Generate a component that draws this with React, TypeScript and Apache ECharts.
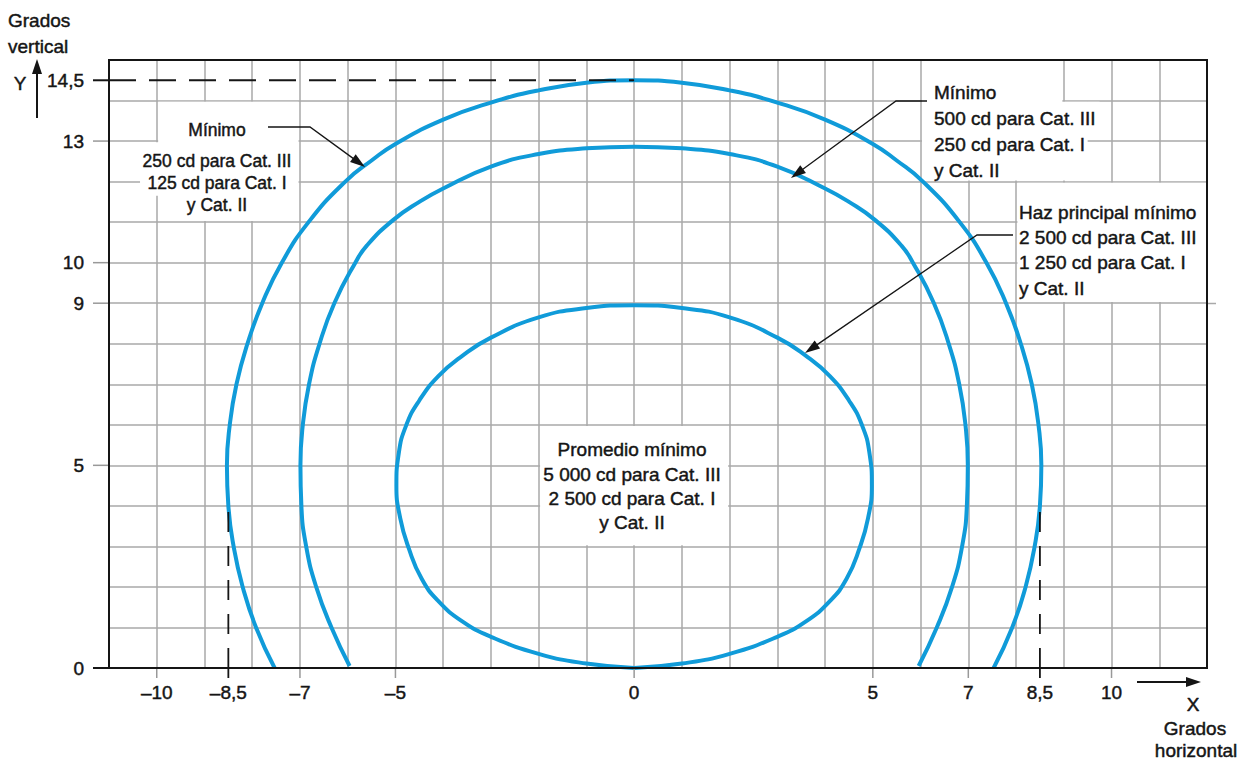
import React, { useEffect, useRef } from 'react';
import * as echarts from 'echarts';

// ---------- data ----------
const outerCurve: [number, number][] = [
  [-7.53, 0], [-7.92, 1], [-8.2, 2], [-8.39, 3], [-8.5, 4], [-8.53, 5], [-8.47, 6], [-8.33, 7],
  [-8.1, 8], [-7.79, 9], [-7.38, 10], [-6.82, 11], [-6.05, 12], [-5.5, 12.52], [-5.0, 12.93],
  [-4.0, 13.53], [-3.0, 13.95], [-2.0, 14.25], [-1.0, 14.44], [0, 14.5],
  [1.0, 14.44], [2.0, 14.25], [3.0, 13.95], [4.0, 13.53], [5.0, 12.93], [5.5, 12.52], [6.05, 12],
  [6.82, 11], [7.38, 10], [7.79, 9], [8.1, 8], [8.33, 7], [8.47, 6], [8.53, 5], [8.5, 4],
  [8.39, 3], [8.2, 2], [7.92, 1], [7.53, 0],
];

const middleCurve: [number, number][] = [
  [-5.96, 0.05], [-6.34, 1], [-6.66, 2], [-6.87, 3], [-6.97, 4], [-6.99, 5], [-6.94, 6], [-6.81, 7],
  [-6.59, 8], [-6.28, 9], [-5.84, 10], [-5.6, 10.42], [-5.05, 11.05], [-4.5, 11.5], [-4.0, 11.83],
  [-3.0, 12.37], [-2.0, 12.68], [-1.0, 12.82], [0, 12.86],
  [1.0, 12.82], [2.0, 12.68], [3.0, 12.37], [4.0, 11.83], [4.5, 11.5], [5.05, 11.05], [5.6, 10.42],
  [5.84, 10], [6.28, 9], [6.59, 8], [6.81, 7], [6.94, 6], [6.99, 5], [6.97, 4], [6.87, 3],
  [6.66, 2], [6.34, 1], [5.96, 0.05],
];

const innerCurve: [number, number][] = [
  [0, 0], [-1.0, 0.11], [-2.0, 0.35], [-3.0, 0.77], [-3.6, 1.15], [-4.1, 1.65], [-4.45, 2.2],
  [-4.72, 2.95], [-4.9, 3.7], [-4.98, 4.5], [-4.93, 5.3], [-4.77, 6.0], [-4.5, 6.6], [-4.1, 7.2],
  [-3.6, 7.7], [-3.0, 8.15], [-2.0, 8.65], [-1.0, 8.88], [0, 8.95],
  [1.0, 8.88], [2.0, 8.65], [3.0, 8.15], [3.6, 7.7], [4.1, 7.2], [4.5, 6.6], [4.77, 6.0],
  [4.93, 5.3], [4.98, 4.5], [4.9, 3.7], [4.72, 2.95], [4.45, 2.2], [4.1, 1.65], [3.6, 1.15],
  [3.0, 0.77], [2.0, 0.35], [1.0, 0.11], [0, 0],
];

const xTickValues = [-10, -8.5, -7, -5, 0, 5, 7, 8.5, 10];
const xTickLabels = ['–10', '–8,5', '–7', '–5', '0', '5', '7', '8,5', '10'];
const yTickValues = [0, 5, 9, 10, 13, 14.5];
const yTickLabels = ['0', '5', '9', '10', '13', '14,5'];

const guideTop: [number, number][] = [[-11, 14.5], [0, 14.5]];
const guideLeft: [number, number][] = [[-8.5, 0], [-8.5, 3.9]];
const guideRight: [number, number][] = [[8.5, 0], [8.5, 4.02]];

const noteLeft = ['Mínimo', '250 cd para Cat. III', '125 cd para Cat. I', 'y Cat. II'];
const noteTopRight = ['Mínimo', '500 cd para Cat. III', '250 cd para Cat. I', 'y Cat. II'];
const noteRight = ['Haz principal mínimo', '2 500 cd para Cat. III', '1 250 cd para Cat. I', 'y Cat. II'];
const noteCenter = ['Promedio mínimo', '5 000 cd para Cat. III', '2 500 cd para Cat. I', 'y Cat. II'];

// ---------- layout ----------
const W = 1240;
const H = 766;
const GL = 109, GR = 1207, GT = 60, GB = 668;
const FONT = '"Liberation Sans", Arial, Helvetica, sans-serif';
const BLUE = '#109bd9';
const GRIDC = '#a9a9a9';
const INK = '#151515';

// white boxes behind the notes (in axis units): [x1, y1, x2, y2]
const maskBoxes: number[][] = [
  [-9.97, 11.03, -7.03, 13.97],
  [-10.35, 11.65, -9.97, 12.97],
  [6.03, 12.03, 8.97, 15],
  [8.97, 12.03, 9.5, 13.97],
  [9.5, 13.05, 9.75, 13.97],
  [8.03, 9.03, 12, 11.97],
  [-1.97, 3.03, 1.97, 5.97],
];

function textStyle(text: string, size: number, align: string) {
  return {
    text,
    fill: INK,
    fontSize: size,
    fontFamily: FONT,
    align,
    textAlign: align,
    verticalAlign: 'middle',
    textVerticalAlign: 'middle',
    stroke: INK,
    lineWidth: 0.45,
  };
}

function txt(text: string, x: number, y: number, size: number, align: string) {
  return { type: 'text', x, y, z: 60, silent: true, style: textStyle(text, size, align) };
}

function leader(pts: number[][]) {
  const n = pts.length;
  const tip = pts[n - 1];
  const prev = pts[n - 2];
  const dx = tip[0] - prev[0];
  const dy = tip[1] - prev[1];
  const len = Math.sqrt(dx * dx + dy * dy);
  const ux = dx / len, uy = dy / len;
  const L = 15, Wd = 4.8;
  const bx = tip[0] - ux * L, by = tip[1] - uy * L;
  const linePts = pts.slice(0, n - 1).concat([[bx + ux * 2, by + uy * 2]]);
  return [
    {
      type: 'polyline', z: 60, silent: true,
      shape: { points: linePts },
      style: { stroke: INK, lineWidth: 1.3, fill: 'none' },
    },
    {
      type: 'polygon', z: 60, silent: true,
      shape: { points: [tip, [bx - uy * Wd, by + ux * Wd], [bx + uy * Wd, by - ux * Wd]] },
      style: { fill: INK },
    },
  ];
}

function buildOption() {
  const curveSeries = (name: string, data: [number, number][]) => ({
    name,
    type: 'line',
    data,
    smooth: 0.5,
    showSymbol: false,
    symbol: 'none',
    z: 3,
    lineStyle: { color: BLUE, width: 4 },
    silent: true,
  });
  const dashSeries = (data: [number, number][], dash: number[]) => ({
    type: 'line',
    data,
    showSymbol: false,
    symbol: 'none',
    z: 4,
    lineStyle: { color: INK, width: 1.8, type: dash },
    silent: true,
  });

  const graphics: any[] = [];
  graphics.push({
    type: 'rect', z: 50, silent: true,
    shape: { x: GL, y: GT, width: GR - GL, height: GB - GT },
    style: { fill: 'none', stroke: INK, lineWidth: 2 },
  });
  graphics.push({
    type: 'line', z: 49, silent: true,
    shape: { x1: GR, y1: 303.5, x2: GR + 9, y2: 303.5 },
    style: { stroke: GRIDC, lineWidth: 1.5 },
  });
  // notes
  const leftYs = [130, 161, 183, 205];
  noteLeft.forEach((t, i) => graphics.push(txt(t, 217, leftYs[i], 17.5, 'center')));
  const trYs = [92, 118, 144, 170];
  noteTopRight.forEach((t, i) => graphics.push(txt(t, 934, trYs[i], 19, 'left')));
  const rYs = [212, 237, 262, 288];
  noteRight.forEach((t, i) => graphics.push(txt(t, 1019, rYs[i], 19, 'left')));
  const cYs = [449, 474, 498, 522];
  noteCenter.forEach((t, i) => graphics.push(txt(t, 632, cYs[i], 19, 'center')));
  // leaders
  graphics.push(...leader([[268, 127], [310, 127], [365, 167]]));
  graphics.push(...leader([[927, 101], [896, 101], [791, 178]]));
  graphics.push(...leader([[1013, 235], [977, 235], [805, 353]]));
  // axis titles & arrows
  graphics.push(txt('Grados', 8, 20, 19, 'left'));
  graphics.push(txt('vertical', 8, 46, 19, 'left'));
  graphics.push(txt('Y', 20, 83, 19, 'center'));
  graphics.push({
    type: 'line', z: 60, silent: true,
    shape: { x1: 37, y1: 118, x2: 37, y2: 70 },
    style: { stroke: INK, lineWidth: 2 },
  });
  graphics.push({
    type: 'polygon', z: 60, silent: true,
    shape: { points: [[37, 59], [32, 74], [42, 74]] },
    style: { fill: INK },
  });
  graphics.push({
    type: 'line', z: 60, silent: true,
    shape: { x1: 1137, y1: 682, x2: 1190, y2: 682 },
    style: { stroke: INK, lineWidth: 2 },
  });
  graphics.push({
    type: 'polygon', z: 60, silent: true,
    shape: { points: [[1201, 682], [1186, 677], [1186, 687]] },
    style: { fill: INK },
  });
  graphics.push(txt('X', 1193, 704, 19, 'center'));
  graphics.push(txt('Grados', 1195, 728, 19, 'center'));
  graphics.push(txt('horizontal', 1196, 750, 19, 'center'));

  return {
    animation: false,
    backgroundColor: '#fff',
    grid: { left: GL, right: W - GR, top: GT, bottom: H - GB, containLabel: false },
    xAxis: {
      type: 'value', min: -11, max: 12, interval: 1,
      axisLine: { show: false }, axisTick: { show: false }, axisLabel: { show: false },
      splitLine: { show: true, lineStyle: { color: GRIDC, width: 1.5 } },
    },
    yAxis: {
      type: 'value', min: 0, max: 15, interval: 1,
      axisLine: { show: false }, axisTick: { show: false }, axisLabel: { show: false },
      splitLine: { show: true, lineStyle: { color: GRIDC, width: 1.5 } },
    },
    series: [
      {
        type: 'line', data: [], z: 1, silent: true,
        markArea: {
          silent: true,
          itemStyle: { color: '#ffffff', opacity: 1, borderWidth: 0 },
          data: maskBoxes.map((b) => [{ xAxis: b[0], yAxis: b[1] }, { xAxis: b[2], yAxis: b[3] }]),
        },
      },
      curveSeries('outer', outerCurve),
      curveSeries('middle', middleCurve),
      curveSeries('inner', innerCurve),
      dashSeries(guideTop, [27, 13]),
      dashSeries(guideLeft, [20, 14]),
      dashSeries(guideRight, [20, 14]),
      {
        type: 'custom', coordinateSystem: 'cartesian2d', clip: false, z: 5, silent: true,
        data: xTickValues.map((v, i) => [v, 0, i]),
        renderItem: (params: any, api: any) => {
          const i = params.dataIndex;
          const v = api.value(0);
          const p = api.coord([v, 0]);
          const strong = Math.abs(v) === 8.5;
          return {
            type: 'group',
            children: [
              {
                type: 'line',
                shape: { x1: p[0], y1: p[1], x2: p[0], y2: p[1] + 10 },
                style: { stroke: strong ? INK : '#999', lineWidth: strong ? 1.8 : 1.5 },
              },
              {
                type: 'text', x: p[0], y: p[1] + 24,
                style: textStyle(xTickLabels[i], 19, 'center'),
              },
            ],
          };
        },
      },
      {
        type: 'custom', coordinateSystem: 'cartesian2d', clip: false, z: 5, silent: true,
        data: yTickValues.map((v, i) => [-11, v, i]),
        renderItem: (params: any, api: any) => {
          const i = params.dataIndex;
          const v = api.value(1);
          const p = api.coord([-11, v]);
          const strong = v === 0 || v === 14.5;
          return {
            type: 'group',
            children: [
              {
                type: 'line',
                shape: { x1: p[0] - 16, y1: p[1], x2: p[0], y2: p[1] },
                style: { stroke: strong ? INK : '#999', lineWidth: strong ? 2 : 1.5 },
              },
              {
                type: 'text', x: p[0] - 25, y: p[1],
                style: textStyle(yTickLabels[i], 19, 'right'),
              },
            ],
          };
        },
      },
    ],
    graphic: graphics,
  };
}

export default function App() {
  const ref = useRef<HTMLDivElement>(null);
  useEffect(() => {
    if (!ref.current) return;
    const chart = echarts.init(ref.current, null, { renderer: 'svg' });
    chart.setOption(buildOption() as any);
    return () => chart.dispose();
  }, []);
  return (
    <div
      ref={ref}
      style={{ position: 'fixed', left: 0, top: 0, width: W, height: H, background: '#fff' }}
    />
  );
}
